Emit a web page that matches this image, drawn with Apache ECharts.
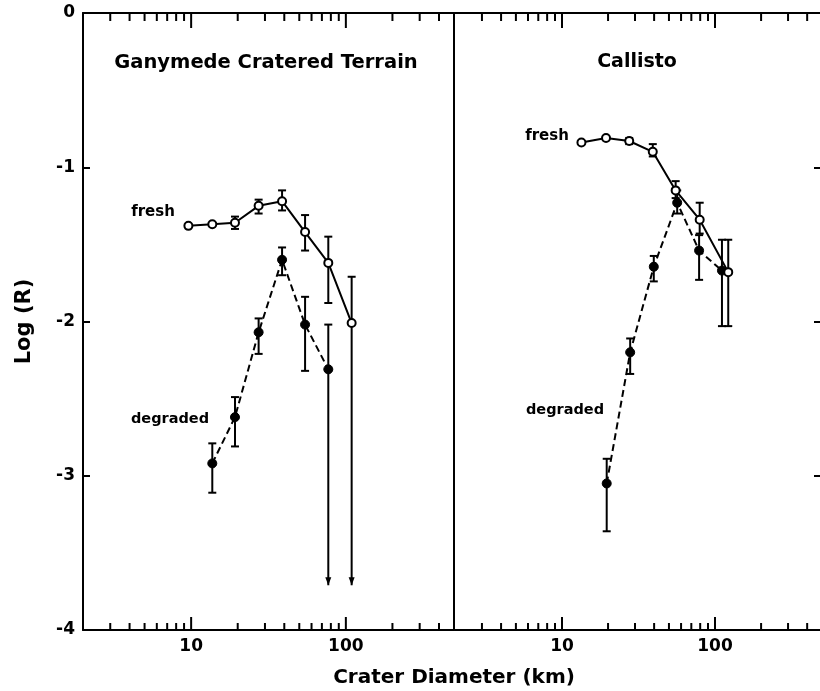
<!DOCTYPE html>
<html><head><meta charset="utf-8">
<script src="https://cdn.jsdelivr.net/npm/echarts@6/dist/echarts.min.js"></script>
<style>html,body{margin:0;padding:0;background:#fff}#c{width:820px;height:691px}</style>
</head><body><div id="c"></div>
<script>
// ---- axis ranges & ticks ----
const xMin = 2, xMax = 500;
const yMin = -4, yMax = 0;
const majorTicks = [10, 100];
const minorTicks = [3, 4, 5, 6, 7, 8, 9, 20, 30, 40, 50, 60, 70, 80, 90, 200, 300, 400];
const xTickLabels = ['10', '100'];

// ---- Ganymede Cratered Terrain ----
const ganFreshD   = [9.6, 13.7, 19.2, 27.3, 38.7, 54.5, 77, 109];
const ganFresh    = [-1.38, -1.37, -1.36, -1.25, -1.22, -1.42, -1.62, -2.01];
const ganFreshLo  = [null, null, -1.40, -1.30, -1.28, -1.54, -1.88, -3.71];
const ganFreshHi  = [null, null, -1.32, -1.21, -1.15, -1.31, -1.45, -1.71];
const ganFreshArr = [0, 0, 0, 0, 0, 0, 0, 1];

const ganDegD   = [13.7, 19.2, 27.3, 38.7, 54.5, 77];
const ganDeg    = [-2.92, -2.62, -2.07, -1.60, -2.02, -2.31];
const ganDegLo  = [-3.11, -2.81, -2.21, -1.70, -2.32, -3.71];
const ganDegHi  = [-2.79, -2.49, -1.98, -1.52, -1.84, -2.02];
const ganDegArr = [0, 0, 0, 0, 0, 1];

// ---- Callisto ----
const calFreshD   = [13.4, 19.4, 27.5, 39.2, 55.3, 79.4, 122];
const calFresh    = [-0.84, -0.81, -0.83, -0.90, -1.15, -1.34, -1.68];
const calFreshLo  = [null, null, -0.85, -0.93, -1.20, -1.43, -2.03];
const calFreshHi  = [null, null, -0.81, -0.85, -1.09, -1.23, -1.47];
const calFreshArr = [0, 0, 0, 0, 0, 0, 0];

const calDegD   = [19.6, 27.9, 39.8, 56.6, 78.7, 111];
const calDeg    = [-3.05, -2.20, -1.645, -1.23, -1.54, -1.67];
const calDegLo  = [-3.36, -2.34, -1.74, -1.30, -1.73, -2.03];
const calDegHi  = [-2.89, -2.11, -1.575, -1.15, -1.44, -1.47];
const calDegArr = [0, 0, 0, 0, 0, 0];

const FONT = 'DejaVu Sans';
const BLACK = '#000';

function pairs(xs, ys) { return xs.map((x, i) => [x, ys[i]]); }
function errData(xs, lo, hi, arr) {
  const out = [];
  xs.forEach((x, i) => { if (lo[i] != null && hi[i] != null) out.push([x, lo[i], hi[i], arr[i]]); });
  return out;
}

function renderErr(params, api) {
  const x = api.value(0), lo = api.value(1), hi = api.value(2), arr = api.value(3);
  const t = api.coord([x, hi]);
  const b = api.coord([x, lo]);
  const cw = 4;
  const st = { stroke: BLACK, lineWidth: 2, fill: null };
  const ch = [
    { type: 'line', shape: { x1: t[0], y1: t[1], x2: b[0], y2: b[1] }, style: st },
    { type: 'line', shape: { x1: t[0] - cw, y1: t[1], x2: t[0] + cw, y2: t[1] }, style: st }
  ];
  if (arr) {
    ch.push({ type: 'polygon', shape: { points: [[b[0] - 3, b[1] - 8], [b[0] + 3, b[1] - 8], [b[0], b[1]]] }, style: { fill: BLACK } });
  } else {
    ch.push({ type: 'line', shape: { x1: b[0] - cw, y1: b[1], x2: b[0] + cw, y2: b[1] }, style: st });
  }
  return { type: 'group', children: ch };
}

function renderTick(params, api) {
  const v = api.value(0), maj = api.value(2);
  const b = api.coord([v, yMin]);
  const t = api.coord([v, yMax]);
  const lb = maj ? 13 : 7, lt = maj ? 15 : 8;
  const st = { stroke: BLACK, lineWidth: 2 };
  return { type: 'group', children: [
    { type: 'line', shape: { x1: b[0], y1: b[1], x2: b[0], y2: b[1] - lb }, style: st },
    { type: 'line', shape: { x1: t[0], y1: t[1], x2: t[0], y2: t[1] + lt }, style: st }
  ]};
}

const tickData = majorTicks.map(v => [v, yMin, 1]).concat(minorTicks.map(v => [v, yMin, 0]));

const axisLine = { show: true, onZero: false, lineStyle: { color: BLACK, width: 2 } };
const lblStyle = { color: BLACK, fontFamily: FONT, fontWeight: 'bold', fontSize: 17 };

function xAx(gi, pos, labels) {
  return {
    type: 'log', logBase: 10, gridIndex: gi, position: pos, min: xMin, max: xMax,
    axisLine: axisLine, axisTick: { show: false }, splitLine: { show: false }, minorTick: { show: false },
    axisLabel: labels ? Object.assign({
      show: true, margin: 8,
      formatter: v => { const i = majorTicks.findIndex(m => Math.abs(m - v) < 1e-6); return i >= 0 ? xTickLabels[i] : ''; }
    }, lblStyle) : { show: false }
  };
}
function yAx(gi, pos, opts) {
  return Object.assign({
    type: 'value', gridIndex: gi, position: pos, min: yMin, max: yMax, interval: 1,
    axisLine: axisLine, splitLine: { show: false },
    axisTick: { show: false }, axisLabel: { show: false }
  }, opts || {});
}

function lineSeries(xi, yi, data, dashed) {
  return {
    type: 'line', xAxisIndex: xi, yAxisIndex: yi, data: data, z: 5,
    symbol: 'circle', symbolSize: dashed ? 9 : 8, showSymbol: true,
    itemStyle: dashed ? { color: BLACK, borderColor: BLACK, borderWidth: 1 } : { color: '#fff', borderColor: BLACK, borderWidth: 2 },
    lineStyle: { color: BLACK, width: 2, type: dashed ? [7, 4] : 'solid' },
    emphasis: { disabled: true }, animation: false
  };
}
function errSeries(xi, yi, data) {
  return { type: 'custom', xAxisIndex: xi, yAxisIndex: yi, data: data, renderItem: renderErr,
    encode: { x: 0, y: [1, 2] }, clip: false, z: 3, animation: false, silent: true };
}
function tickSeries(xi, yi) {
  return { type: 'custom', xAxisIndex: xi, yAxisIndex: yi, data: tickData, renderItem: renderTick,
    encode: { x: 0, y: 1 }, clip: false, z: 4, animation: false, silent: true };
}

const option = {
  backgroundColor: '#fff',
  animation: false,
  grid: [
    { left: 83, top: 13, width: 371, height: 617, containLabel: false, outerBoundsMode: 'none' },
    { left: 455, top: 13, width: 367, height: 617, containLabel: false, outerBoundsMode: 'none' }
  ],
  xAxis: [xAx(0, 'bottom', true), xAx(0, 'top', false), xAx(1, 'bottom', true), xAx(1, 'top', false)],
  yAxis: [
    yAx(0, 'left', {
      axisTick: { show: true, inside: true, length: 7, lineStyle: { color: BLACK, width: 2 } },
      axisLabel: Object.assign({ show: true, margin: 8 }, lblStyle),
      name: 'Log (R)', nameLocation: 'middle', nameRotate: 90, nameGap: 48,
      nameTextStyle: { color: BLACK, fontFamily: FONT, fontWeight: 'bold', fontSize: 21 }
    }),
    yAx(0, 'right'),
    yAx(1, 'left', { axisLine: { show: false } }),
    yAx(1, 'right', { axisTick: { show: true, inside: true, length: 8, lineStyle: { color: BLACK, width: 2 } } })
  ],
  series: [
    tickSeries(0, 0), tickSeries(2, 2),
    errSeries(0, 0, errData(ganFreshD, ganFreshLo, ganFreshHi, ganFreshArr)),
    errSeries(0, 0, errData(ganDegD, ganDegLo, ganDegHi, ganDegArr)),
    errSeries(2, 2, errData(calFreshD, calFreshLo, calFreshHi, calFreshArr)),
    errSeries(2, 2, errData(calDegD, calDegLo, calDegHi, calDegArr)),
    lineSeries(0, 0, pairs(ganDegD, ganDeg), true),
    lineSeries(0, 0, pairs(ganFreshD, ganFresh), false),
    lineSeries(2, 2, pairs(calDegD, calDeg), true),
    lineSeries(2, 2, pairs(calFreshD, calFresh), false)
  ],
  graphic: [
    { type: 'text', x: 266, y: 63, style: { text: 'Ganymede Cratered Terrain', fill: BLACK, font: 'bold 19.5px "DejaVu Sans"', align: 'center', verticalAlign: 'middle' } },
    { type: 'text', x: 637, y: 62, style: { text: 'Callisto', fill: BLACK, font: 'bold 19px "DejaVu Sans"', align: 'center', verticalAlign: 'middle' } },
    { type: 'text', x: 454, y: 678, style: { text: 'Crater Diameter (km)', fill: BLACK, font: 'bold 20px "DejaVu Sans"', align: 'center', verticalAlign: 'middle' } },
    { type: 'text', x: 153, y: 212, style: { text: 'fresh', fill: BLACK, font: 'bold 15px "DejaVu Sans"', align: 'center', verticalAlign: 'middle' } },
    { type: 'text', x: 170, y: 419, style: { text: 'degraded', fill: BLACK, font: 'bold 14.5px "DejaVu Sans"', align: 'center', verticalAlign: 'middle' } },
    { type: 'text', x: 547, y: 136, style: { text: 'fresh', fill: BLACK, font: 'bold 15px "DejaVu Sans"', align: 'center', verticalAlign: 'middle' } },
    { type: 'text', x: 565, y: 410, style: { text: 'degraded', fill: BLACK, font: 'bold 14.5px "DejaVu Sans"', align: 'center', verticalAlign: 'middle' } }
  ]
};

const chart = echarts.init(document.getElementById('c'), null, { renderer: 'canvas' });
chart.setOption(option);
</script>
</body></html>
